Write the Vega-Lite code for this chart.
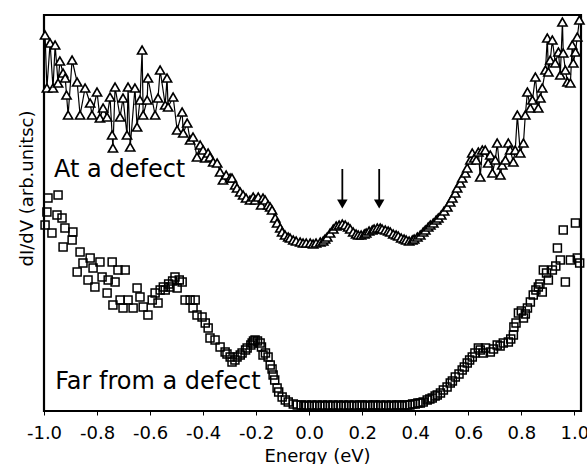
{
  "$schema": "https://vega.github.io/schema/vega-lite/v6.json",
  "width": 537,
  "height": 396,
  "autosize": {"type": "none"},
  "padding": {"left": 44, "top": 15, "right": 6, "bottom": 53},
  "background": "white",
  "config": {"view": {"stroke": "black", "strokeWidth": 2.2}, "font": "DejaVu Sans"},
  "datasets": {
    "defect": [
      {"x": -0.996, "y": 376}, {"x": -0.989, "y": 323}, {"x": -0.977, "y": 368}, {"x": -0.966, "y": 323},
      {"x": -0.958, "y": 366}, {"x": -0.947, "y": 328}, {"x": -0.94, "y": 350}, {"x": -0.928, "y": 338},
      {"x": -0.92, "y": 333}, {"x": -0.915, "y": 316}, {"x": -0.909, "y": 296}, {"x": -0.894, "y": 351},
      {"x": -0.875, "y": 329}, {"x": -0.864, "y": 296}, {"x": -0.845, "y": 323}, {"x": -0.826, "y": 308},
      {"x": -0.819, "y": 296}, {"x": -0.8, "y": 319}, {"x": -0.789, "y": 293}, {"x": -0.777, "y": 303},
      {"x": -0.762, "y": 294}, {"x": -0.751, "y": 314}, {"x": -0.743, "y": 276}, {"x": -0.74, "y": 263},
      {"x": -0.732, "y": 324}, {"x": -0.713, "y": 294}, {"x": -0.702, "y": 313}, {"x": -0.687, "y": 276},
      {"x": -0.683, "y": 324}, {"x": -0.675, "y": 264}, {"x": -0.657, "y": 323}, {"x": -0.649, "y": 284},
      {"x": -0.638, "y": 311}, {"x": -0.63, "y": 361}, {"x": -0.626, "y": 296}, {"x": -0.611, "y": 311},
      {"x": -0.608, "y": 333}, {"x": -0.581, "y": 296}, {"x": -0.57, "y": 313}, {"x": -0.562, "y": 341},
      {"x": -0.543, "y": 306}, {"x": -0.536, "y": 333}, {"x": -0.532, "y": 304}, {"x": -0.513, "y": 314},
      {"x": -0.498, "y": 281}, {"x": -0.479, "y": 299}, {"x": -0.475, "y": 278}, {"x": -0.46, "y": 288},
      {"x": -0.449, "y": 271}, {"x": -0.438, "y": 274}, {"x": -0.423, "y": 254}, {"x": -0.411, "y": 266},
      {"x": -0.4, "y": 261}, {"x": -0.392, "y": 253}, {"x": -0.381, "y": 258}, {"x": -0.374, "y": 254},
      {"x": -0.362, "y": 249}, {"x": -0.347, "y": 248}, {"x": -0.336, "y": 239}, {"x": -0.325, "y": 231},
      {"x": -0.313, "y": 236}, {"x": -0.298, "y": 233}, {"x": -0.291, "y": 233}, {"x": -0.279, "y": 226},
      {"x": -0.272, "y": 223}, {"x": -0.26, "y": 219}, {"x": -0.249, "y": 216}, {"x": -0.238, "y": 213},
      {"x": -0.223, "y": 211}, {"x": -0.211, "y": 214}, {"x": -0.204, "y": 211}, {"x": -0.192, "y": 214},
      {"x": -0.181, "y": 206}, {"x": -0.174, "y": 213}, {"x": -0.166, "y": 211}, {"x": -0.155, "y": 206},
      {"x": -0.147, "y": 204}, {"x": -0.14, "y": 201}, {"x": -0.128, "y": 193}, {"x": -0.121, "y": 188},
      {"x": -0.109, "y": 183}, {"x": -0.102, "y": 179}, {"x": -0.091, "y": 176}, {"x": -0.079, "y": 174},
      {"x": -0.072, "y": 173}, {"x": -0.06, "y": 171}, {"x": -0.049, "y": 170}, {"x": -0.034, "y": 169},
      {"x": -0.023, "y": 168}, {"x": -0.011, "y": 168}, {"x": 0.004, "y": 168}, {"x": 0.015, "y": 167},
      {"x": 0.026, "y": 168}, {"x": 0.042, "y": 169}, {"x": 0.053, "y": 170}, {"x": 0.06, "y": 172},
      {"x": 0.068, "y": 174}, {"x": 0.079, "y": 178}, {"x": 0.091, "y": 182}, {"x": 0.102, "y": 185},
      {"x": 0.113, "y": 186}, {"x": 0.125, "y": 187}, {"x": 0.136, "y": 186}, {"x": 0.147, "y": 184},
      {"x": 0.155, "y": 182}, {"x": 0.166, "y": 179}, {"x": 0.177, "y": 177}, {"x": 0.185, "y": 176},
      {"x": 0.196, "y": 176}, {"x": 0.208, "y": 177}, {"x": 0.215, "y": 178}, {"x": 0.226, "y": 180},
      {"x": 0.238, "y": 181}, {"x": 0.245, "y": 182}, {"x": 0.257, "y": 183}, {"x": 0.268, "y": 183},
      {"x": 0.275, "y": 182}, {"x": 0.287, "y": 181}, {"x": 0.298, "y": 180}, {"x": 0.306, "y": 179},
      {"x": 0.317, "y": 177}, {"x": 0.328, "y": 176}, {"x": 0.336, "y": 175}, {"x": 0.347, "y": 173},
      {"x": 0.358, "y": 172}, {"x": 0.366, "y": 171}, {"x": 0.377, "y": 170}, {"x": 0.389, "y": 171},
      {"x": 0.396, "y": 172}, {"x": 0.408, "y": 174}, {"x": 0.419, "y": 176}, {"x": 0.43, "y": 179},
      {"x": 0.438, "y": 181}, {"x": 0.449, "y": 184}, {"x": 0.457, "y": 186}, {"x": 0.468, "y": 188},
      {"x": 0.479, "y": 191}, {"x": 0.487, "y": 193}, {"x": 0.498, "y": 196}, {"x": 0.509, "y": 200},
      {"x": 0.521, "y": 204}, {"x": 0.532, "y": 209}, {"x": 0.54, "y": 213}, {"x": 0.551, "y": 218},
      {"x": 0.558, "y": 223}, {"x": 0.57, "y": 228}, {"x": 0.577, "y": 233}, {"x": 0.589, "y": 238},
      {"x": 0.596, "y": 243}, {"x": 0.608, "y": 251}, {"x": 0.615, "y": 258}, {"x": 0.623, "y": 253},
      {"x": 0.63, "y": 251}, {"x": 0.638, "y": 259}, {"x": 0.645, "y": 234}, {"x": 0.653, "y": 261},
      {"x": 0.664, "y": 261}, {"x": 0.675, "y": 248}, {"x": 0.683, "y": 256}, {"x": 0.691, "y": 238},
      {"x": 0.702, "y": 251}, {"x": 0.709, "y": 268}, {"x": 0.721, "y": 236}, {"x": 0.728, "y": 246},
      {"x": 0.74, "y": 251}, {"x": 0.751, "y": 268}, {"x": 0.758, "y": 261}, {"x": 0.77, "y": 249},
      {"x": 0.777, "y": 261}, {"x": 0.785, "y": 296}, {"x": 0.796, "y": 258}, {"x": 0.808, "y": 268},
      {"x": 0.815, "y": 296}, {"x": 0.823, "y": 319}, {"x": 0.834, "y": 303}, {"x": 0.842, "y": 311},
      {"x": 0.853, "y": 334}, {"x": 0.864, "y": 303}, {"x": 0.872, "y": 313}, {"x": 0.879, "y": 323},
      {"x": 0.891, "y": 341}, {"x": 0.898, "y": 373}, {"x": 0.902, "y": 339}, {"x": 0.909, "y": 351},
      {"x": 0.917, "y": 371}, {"x": 0.928, "y": 348}, {"x": 0.94, "y": 359}, {"x": 0.947, "y": 336},
      {"x": 0.955, "y": 389}, {"x": 0.958, "y": 358}, {"x": 0.966, "y": 341}, {"x": 0.974, "y": 329},
      {"x": 0.985, "y": 328}, {"x": 0.992, "y": 366}, {"x": 0.996, "y": 348}, {"x": 1.004, "y": 359},
      {"x": 1.011, "y": 374}, {"x": 1.019, "y": 391}
    ],
    "far": [
      {"x": -0.996, "y": 186}, {"x": -0.989, "y": 199}, {"x": -0.985, "y": 213}, {"x": -0.97, "y": 178},
      {"x": -0.951, "y": 196}, {"x": -0.947, "y": 216}, {"x": -0.932, "y": 193}, {"x": -0.928, "y": 164},
      {"x": -0.921, "y": 183}, {"x": -0.894, "y": 171}, {"x": -0.891, "y": 179}, {"x": -0.875, "y": 139},
      {"x": -0.864, "y": 159}, {"x": -0.853, "y": 148}, {"x": -0.834, "y": 131}, {"x": -0.826, "y": 153},
      {"x": -0.815, "y": 143}, {"x": -0.808, "y": 124}, {"x": -0.789, "y": 149}, {"x": -0.781, "y": 134},
      {"x": -0.762, "y": 118}, {"x": -0.758, "y": 131}, {"x": -0.743, "y": 149}, {"x": -0.74, "y": 106},
      {"x": -0.732, "y": 129}, {"x": -0.721, "y": 141}, {"x": -0.713, "y": 111}, {"x": -0.702, "y": 103},
      {"x": -0.694, "y": 141}, {"x": -0.683, "y": 111}, {"x": -0.664, "y": 103}, {"x": -0.649, "y": 123},
      {"x": -0.638, "y": 114}, {"x": -0.626, "y": 104}, {"x": -0.608, "y": 96}, {"x": -0.592, "y": 111},
      {"x": -0.581, "y": 118}, {"x": -0.57, "y": 108}, {"x": -0.562, "y": 121}, {"x": -0.55, "y": 124},
      {"x": -0.543, "y": 121}, {"x": -0.53, "y": 127}, {"x": -0.525, "y": 124}, {"x": -0.515, "y": 130},
      {"x": -0.506, "y": 134}, {"x": -0.498, "y": 123}, {"x": -0.49, "y": 131}, {"x": -0.479, "y": 129},
      {"x": -0.468, "y": 111}, {"x": -0.449, "y": 111}, {"x": -0.438, "y": 103}, {"x": -0.43, "y": 111},
      {"x": -0.423, "y": 96}, {"x": -0.404, "y": 94}, {"x": -0.392, "y": 88}, {"x": -0.381, "y": 83},
      {"x": -0.374, "y": 73}, {"x": -0.355, "y": 71}, {"x": -0.336, "y": 64}, {"x": -0.317, "y": 59},
      {"x": -0.31, "y": 57}, {"x": -0.298, "y": 54}, {"x": -0.291, "y": 49}, {"x": -0.28, "y": 51},
      {"x": -0.272, "y": 54}, {"x": -0.26, "y": 56}, {"x": -0.253, "y": 58}, {"x": -0.24, "y": 61},
      {"x": -0.234, "y": 63}, {"x": -0.22, "y": 66}, {"x": -0.215, "y": 68}, {"x": -0.21, "y": 70},
      {"x": -0.204, "y": 71}, {"x": -0.195, "y": 70}, {"x": -0.185, "y": 68}, {"x": -0.18, "y": 64},
      {"x": -0.174, "y": 56}, {"x": -0.165, "y": 58}, {"x": -0.155, "y": 54}, {"x": -0.147, "y": 46},
      {"x": -0.14, "y": 42}, {"x": -0.136, "y": 36}, {"x": -0.13, "y": 31}, {"x": -0.121, "y": 23},
      {"x": -0.115, "y": 19}, {"x": -0.102, "y": 14}, {"x": -0.09, "y": 11}, {"x": -0.079, "y": 9},
      {"x": -0.06, "y": 7}, {"x": -0.045, "y": 6},
      {"x": -0.03, "y": 6}, {"x": -0.02, "y": 5}, {"x": -0.01, "y": 6}, {"x": 0.0, "y": 5}, {"x": 0.01, "y": 6},
      {"x": 0.02, "y": 5}, {"x": 0.03, "y": 6}, {"x": 0.04, "y": 5}, {"x": 0.05, "y": 6}, {"x": 0.06, "y": 5},
      {"x": 0.07, "y": 6}, {"x": 0.08, "y": 5}, {"x": 0.09, "y": 6}, {"x": 0.1, "y": 5}, {"x": 0.11, "y": 6},
      {"x": 0.12, "y": 5}, {"x": 0.13, "y": 6}, {"x": 0.14, "y": 5}, {"x": 0.15, "y": 6}, {"x": 0.16, "y": 5},
      {"x": 0.17, "y": 6}, {"x": 0.18, "y": 5}, {"x": 0.19, "y": 6}, {"x": 0.2, "y": 6}, {"x": 0.21, "y": 5},
      {"x": 0.22, "y": 6}, {"x": 0.23, "y": 5}, {"x": 0.24, "y": 6}, {"x": 0.25, "y": 6}, {"x": 0.26, "y": 5},
      {"x": 0.27, "y": 6}, {"x": 0.28, "y": 5}, {"x": 0.29, "y": 6}, {"x": 0.3, "y": 5}, {"x": 0.31, "y": 6},
      {"x": 0.32, "y": 5}, {"x": 0.33, "y": 6}, {"x": 0.34, "y": 6}, {"x": 0.35, "y": 5}, {"x": 0.36, "y": 6},
      {"x": 0.37, "y": 6}, {"x": 0.38, "y": 6}, {"x": 0.39, "y": 7}, {"x": 0.4, "y": 7}, {"x": 0.41, "y": 8},
      {"x": 0.419, "y": 8}, {"x": 0.43, "y": 9}, {"x": 0.445, "y": 11}, {"x": 0.455, "y": 12}, {"x": 0.464, "y": 13},
      {"x": 0.475, "y": 15}, {"x": 0.483, "y": 16}, {"x": 0.495, "y": 18}, {"x": 0.506, "y": 21}, {"x": 0.52, "y": 24},
      {"x": 0.532, "y": 28}, {"x": 0.54, "y": 30}, {"x": 0.551, "y": 34}, {"x": 0.565, "y": 37}, {"x": 0.577, "y": 41},
      {"x": 0.585, "y": 44}, {"x": 0.596, "y": 48}, {"x": 0.605, "y": 51}, {"x": 0.615, "y": 54}, {"x": 0.625, "y": 58},
      {"x": 0.638, "y": 63}, {"x": 0.645, "y": 61}, {"x": 0.657, "y": 58}, {"x": 0.665, "y": 63}, {"x": 0.683, "y": 59},
      {"x": 0.695, "y": 62}, {"x": 0.709, "y": 66}, {"x": 0.72, "y": 65}, {"x": 0.732, "y": 68}, {"x": 0.751, "y": 69},
      {"x": 0.76, "y": 72}, {"x": 0.77, "y": 76}, {"x": 0.772, "y": 84}, {"x": 0.78, "y": 88}, {"x": 0.789, "y": 98},
      {"x": 0.8, "y": 100}, {"x": 0.808, "y": 93}, {"x": 0.815, "y": 97}, {"x": 0.823, "y": 103}, {"x": 0.834, "y": 109},
      {"x": 0.845, "y": 116}, {"x": 0.855, "y": 121}, {"x": 0.864, "y": 124}, {"x": 0.87, "y": 127}, {"x": 0.879, "y": 119},
      {"x": 0.883, "y": 141}, {"x": 0.895, "y": 138}, {"x": 0.902, "y": 131}, {"x": 0.917, "y": 141}, {"x": 0.93, "y": 145},
      {"x": 0.936, "y": 163}, {"x": 0.947, "y": 151}, {"x": 0.958, "y": 181}, {"x": 0.966, "y": 129}, {"x": 0.985, "y": 151},
      {"x": 1.004, "y": 188}, {"x": 1.011, "y": 153}, {"x": 1.02, "y": 148}
    ],
    "arrows": [
      {"x": 0.125, "y": 242, "yb": 207},
      {"x": 0.264, "y": 242, "yb": 207}
    ],
    "heads": [
      {"x": 0.125, "y": 207},
      {"x": 0.264, "y": 207}
    ],
    "labels": [
      {"x": -0.962, "y": 234, "t": "At a defect"},
      {"x": -0.958, "y": 22, "t": "Far from a defect"}
    ]
  },
  "encoding": {
    "x": {
      "field": "x", "type": "quantitative",
      "scale": {"domain": [-1, 1.025], "nice": false, "zero": false},
      "axis": {
        "values": [-1, -0.8, -0.6, -0.4, -0.2, 0, 0.2, 0.4, 0.6, 0.8, 1],
        "labelExpr": "replace(format(datum.value, '.1f'), '\u2212', '-')",
        "labelFont": "DejaVu Sans", "labelFontSize": 18, "labelColor": "black",
        "labelPadding": 9, "labelFlush": false, "labelOverlap": false, "labelBound": false,
        "tickSize": 4, "tickColor": "black", "tickWidth": 1,
        "domain": false, "grid": false,
        "title": "Energy (eV)", "titleFont": "DejaVu Sans", "titleFontSize": 18, "titleFontWeight": "normal",
        "titleColor": "black", "titleX": 273, "titleY": 50, "titleAlign": "center", "titleBaseline": "alphabetic"
      }
    },
    "y": {
      "field": "y", "type": "quantitative",
      "scale": {"domain": [0, 396], "nice": false, "zero": false},
      "axis": {
        "labels": false, "ticks": false, "domain": false, "grid": false,
        "title": "dI/dV (arb.unitsc)", "titleFont": "DejaVu Sans", "titleFontSize": 18, "titleFontWeight": "normal",
        "titleColor": "black", "titleX": -12, "titleY": 173, "titleAngle": 270, "titleAlign": "center", "titleBaseline": "alphabetic"
      }
    }
  },
  "layer": [
    {
      "data": {"name": "defect"},
      "mark": {"type": "line", "color": "black", "strokeWidth": 1.2}
    },
    {
      "data": {"name": "defect"},
      "mark": {"type": "point", "shape": "triangle-up", "filled": false, "fill": "white", "fillOpacity": 1, "stroke": "black", "strokeWidth": 1.6, "size": 85, "opacity": 1}
    },
    {
      "data": {"name": "far"},
      "mark": {"type": "point", "shape": "square", "filled": false, "stroke": "black", "strokeWidth": 1.5, "size": 64, "opacity": 1}
    },
    {
      "data": {"name": "arrows"},
      "mark": {"type": "rule", "color": "black", "strokeWidth": 1.8},
      "encoding": {"y2": {"field": "yb"}}
    },
    {
      "data": {"name": "heads"},
      "mark": {"type": "point", "shape": "triangle-down", "filled": true, "color": "black", "size": 110, "opacity": 1}
    },
    {
      "data": {"name": "labels"},
      "mark": {"type": "text", "align": "left", "baseline": "alphabetic", "font": "DejaVu Sans", "fontSize": 24, "color": "black"},
      "encoding": {"text": {"field": "t"}}
    }
  ]
}
